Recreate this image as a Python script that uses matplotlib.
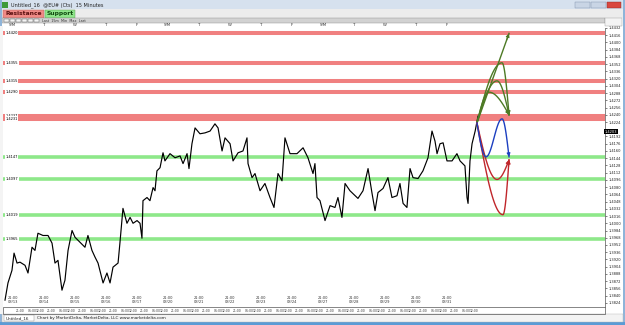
import numpy as np
import matplotlib
matplotlib.use('Agg')
import matplotlib.pyplot as plt
import matplotlib.transforms as mtransforms
from matplotlib.patches import Rectangle

# 15 minute EUR/USD, hours since first bar vs price
hours = [0, 2.3, 5.4, 7.0, 9.3, 11.6, 15.5, 17.8, 20.9, 23.2, 25.5, 29.4, 33.3, 36.4,
         38.7, 41.0, 44.1, 46.4, 48.8, 51.9, 54.2, 58.1, 61.9, 64.2, 67.3, 69.7, 72.0,
         75.9, 78.9, 81.3, 83.6, 87.5, 89.0, 91.3, 94.4, 96.8, 99.1, 102.2, 104.5, 106.0,
         106.8, 109.9, 112.2, 114.6, 116.1, 117.6, 120.0, 122.3, 123.8, 127.7, 131.6,
         135.5, 137.8, 140.9, 142.4, 144.7, 147.1, 150.9, 154.8, 158.7, 162.5, 164.9,
         168.0, 170.3, 174.2, 176.5, 180.4, 184.2, 187.3, 188.1, 191.2, 193.5, 197.4,
         201.2, 205.1, 208.2, 211.3, 214.4, 216.7, 220.6, 226.0, 230.7, 234.5, 238.4,
         239.9, 241.5, 243.8, 247.7, 251.6, 255.4, 257.7, 260.8, 263.2, 267.0, 273.2,
         277.1, 281.0, 284.1, 286.4, 288.7, 292.6, 296.4, 299.5, 303.4, 305.7, 308.1,
         311.1, 313.5, 315.8, 319.7, 323.5, 327.4, 330.5, 332.8, 334.4, 336.7, 339.1,
         342.1, 346.0, 349.8, 352.2, 356.0, 357.6, 358.4, 359.9, 361.5, 363.9, 366.1]
close = [1.3830, 1.3868, 1.3896, 1.3934, 1.3912, 1.3914, 1.3907, 1.3890, 1.3947, 1.3940,
         1.3978, 1.3973, 1.3973, 1.3956, 1.3912, 1.3918, 1.3852, 1.3874, 1.3940, 1.3984,
         1.3969, 1.3958, 1.3947, 1.3973, 1.3940, 1.3925, 1.3912, 1.3868, 1.3890, 1.3868,
         1.3903, 1.3912, 1.3958, 1.4033, 1.4000, 1.4013, 1.4000, 1.4006, 1.4000, 1.3967,
         1.4050, 1.4057, 1.4050, 1.4079, 1.4072, 1.4116, 1.4123, 1.4156, 1.4138, 1.4154,
         1.4145, 1.4149, 1.4132, 1.4154, 1.4121, 1.4176, 1.4211, 1.4198, 1.4200, 1.4204,
         1.4220, 1.4211, 1.4160, 1.4189, 1.4176, 1.4138, 1.4156, 1.4160, 1.4189, 1.4132,
         1.4101, 1.4110, 1.4072, 1.4088, 1.4057, 1.4035, 1.4110, 1.4094, 1.4189, 1.4154,
         1.4154, 1.4167, 1.4145, 1.4110, 1.4132, 1.4057, 1.4050, 1.4006, 1.4039, 1.4035,
         1.4057, 1.4013, 1.4088, 1.4072, 1.4055, 1.4072, 1.4121, 1.4066, 1.4028, 1.4068,
         1.4077, 1.4101, 1.4057, 1.4061, 1.4088, 1.4044, 1.4035, 1.4121, 1.4101, 1.4099,
         1.4116, 1.4145, 1.4204, 1.4182, 1.4154, 1.4176, 1.4178, 1.4138, 1.4138, 1.4154,
         1.4138, 1.4127, 1.4057, 1.4044, 1.4138, 1.4176, 1.4204, 1.4237]
last_price = 1.4203

resistance = [1.4420, 1.4355, 1.4315, 1.4290, 1.4237, 1.4231]
support = [1.4147, 1.4097, 1.4019, 1.3965]

# projected swings drawn by hand on the chart: (hour, price)
swing_start = (365.3, 1.4222)
green_paths = [[swing_start, (374.6, 1.4290), (390.1, 1.4240)],
               [swing_start, (380.8, 1.4315), (390.1, 1.4240)],
               [swing_start, (384.7, 1.4355), (390.1, 1.4240)],
               [swing_start, (390.1, 1.4420)]]
blue_paths = [[swing_start, (372.3, 1.4147), (384.7, 1.4231), (390.1, 1.4147)]]
red_paths = [[swing_start, (380.8, 1.4097), (390.1, 1.4140)],
             [swing_start, (385.4, 1.4019), (390.1, 1.4140)]]

dates = ['03/13', '03/14', '03/15', '03/16', '03/17', '03/20', '03/21', '03/22',
         '03/23', '03/24', '03/27', '03/28', '03/29', '03/30', '03/31']
weekdays = ['S/M', 'T', 'W', 'T', 'F'] * 3
first_session = 6.0
session_times = ['21:00', '06:00', '12:00']
session_offsets = [0, 9, 15]

W, H = 625, 325
fig = plt.figure(figsize=(W / 100, H / 100), dpi=100)
fig.patch.set_facecolor('white')


def box(x0, y0, x1, y1, color, ec='none', lw=0.5, z=0):
    fig.patches.append(Rectangle((x0 / W, 1 - y1 / H), (x1 - x0) / W, (y1 - y0) / H,
                                 transform=fig.transFigure, facecolor=color,
                                 edgecolor=ec, linewidth=lw, zorder=z))


def label(x, y, s, size=3.2, **kw):
    fig.text(x / W, 1 - y / H, s, fontsize=size, va='center', **kw)


# window chrome
box(0, 0, 625, 9, '#d6e1ee')
box(2, 1.5, 8, 7.5, '#3f9a3a')
label(11, 4.8, 'Untitled_16  @EU# (Cts)  15 Minutes', size=3.6, color='#222222')
box(575, 1.5, 590, 7.5, '#c9d5e5', ec='#7b8da8', lw=0.3)
box(591, 1.5, 606, 7.5, '#c9d5e5', ec='#7b8da8', lw=0.3)
box(607, 1.5, 621, 7.5, '#d9473f', ec='#8a2a25', lw=0.3)
box(0, 9, 625, 18, '#ececec')
box(3, 10, 44, 17.5, '#f08a86', ec='#b05a57', lw=0.3)
label(5, 13.8, 'Resistance', size=4.3, color='#5a0f0f', weight='bold')
box(45, 10, 75, 17.5, '#8fe58b', ec='#4f9a4c', lw=0.3)
label(47, 13.8, 'Support', size=4.3, color='#104a10', weight='bold')
box(2, 18, 605, 23, '#d2d2d2', ec='#8a8a8a', lw=0.3)
for i in range(6):
    box(4 + i * 6, 18.7, 9 + i * 6, 22.3, '#f4f4f4', ec='#555555', lw=0.3)
label(42, 20.5, 'Last  15m  Min  Max  Last', size=2.4, color='#333333')
box(605, 18, 622, 26, '#f4f4f4', ec='#9a9a9a', lw=0.3)
box(0, 0, 2, 325, '#8fb4d9')
box(623, 0, 625, 325, '#8fb4d9')
box(0, 322, 625, 325, '#5b9bd5')
box(2, 314, 623, 322, '#f3f3f3', ec='#b5b5b5', lw=0.3)
box(4, 315, 34, 321, '#ffffff', ec='#8a8a8a', lw=0.3)
label(6, 318, 'Untitled_16', size=3.0, color='#222222')
label(37, 318, 'Chart by MarketDelta, MarketDelta, LLC www.marketdelta.com', size=3.0,
      color='#222222')

ax = fig.add_axes([3 / W, 1 - 307 / H, 602 / W, 279 / H])
ax.set_xlim(-1.55, 464.4)
ax.set_ylim(1.38148, 1.44308)

for lvl in resistance:
    ax.axhline(lvl, color='#f08080', lw=2.9, zorder=1)
    ax.text(0.004, lvl, '%.4f' % lvl, transform=ax.get_yaxis_transform(), fontsize=2.6,
            va='center', ha='left', zorder=3,
            bbox=dict(facecolor='white', edgecolor='none', pad=0.4))
for lvl in support:
    ax.axhline(lvl, color='#8ee88a', lw=2.6, zorder=1)
    ax.text(0.004, lvl, '%.4f' % lvl, transform=ax.get_yaxis_transform(), fontsize=2.6,
            va='center', ha='left', zorder=3,
            bbox=dict(facecolor='white', edgecolor='none', pad=0.4))

ax.plot(hours, close, color='black', lw=0.85, zorder=4)


def smooth_path(points, n=40):
    xs, ys = [], []
    last = len(points) - 1
    for i in range(last):
        (x0, y0), (x1, y1) = points[i], points[i + 1]
        s = np.linspace(0, 1, n)
        flat0, flat1 = i > 0, i + 1 < last
        if flat0 and flat1:
            f = (1 - np.cos(np.pi * s)) / 2
        elif flat1:
            f = np.sin(np.pi * s / 2)
        elif flat0:
            f = 1 - np.cos(np.pi * s / 2)
        else:
            f = s
        xs.extend(x0 + (x1 - x0) * s)
        ys.extend(y0 + (y1 - y0) * f)
    return np.array(xs), np.array(ys)


for paths, col in [(green_paths, '#4d7a25'), (red_paths, '#c0262b'), (blue_paths, '#1c3fc0')]:
    for pts in paths:
        xs, ys = smooth_path(pts)
        ax.plot(xs, ys, color=col, lw=1.0, zorder=5)
        ax.annotate('', xy=(xs[-1], ys[-1]), xytext=(xs[-4], ys[-4]), zorder=6,
                    arrowprops=dict(arrowstyle='-|>', color=col, lw=0.8,
                                    mutation_scale=5, shrinkA=0, shrinkB=0))

# right price scale, leaving room for the black last-price box
ticks = [v for v in np.arange(1.3824, 1.4440, 0.0016) if abs(v - last_price) > 0.0009]
ax.yaxis.tick_right()
ax.set_yticks(ticks)
ax.set_yticklabels(['%.4f' % v for v in ticks])
ax.tick_params(axis='y', labelsize=2.6, length=1.5, width=0.4, pad=1, colors='#222222')
ax.set_xticks([])
for sp in ['top', 'left', 'bottom']:
    ax.spines[sp].set_visible(False)
ax.spines['right'].set_linewidth(0.5)
ax.spines['right'].set_color('#555555')

ax.text(1.0, last_price, '%.4f' % last_price, transform=ax.get_yaxis_transform(),
        fontsize=2.6, color='white', va='center', ha='left', zorder=7,
        bbox=dict(facecolor='black', edgecolor='none', pad=0.5))

day_pos = [first_session + 24 * k for k in range(len(dates))]
top_tr = mtransforms.blended_transform_factory(ax.transData, fig.transFigure)
for p, d, wd in zip(day_pos, dates, weekdays):
    fig.text(p, 1 - 25.5 / H, wd, transform=top_tr, fontsize=2.8, ha='center',
             va='center', color='#333333')
    ax.text(p, 0.012, '21:00\n' + d, transform=ax.get_xaxis_transform(), fontsize=2.6,
            ha='center', va='bottom', linespacing=1.0, color='#333333')
    for off, t in zip(session_offsets, session_times):
        fig.text(p + off + 6, 1 - 310.5 / H, t, transform=top_tr, fontsize=2.2,
                 ha='center', va='center', color='#333333')
box(3, 307, 605, 313.5, 'none', ec='#555555', lw=0.5)
box(0, 26, 3, 314, '#f4f4f4')

fig.savefig('out.png', dpi=100)
